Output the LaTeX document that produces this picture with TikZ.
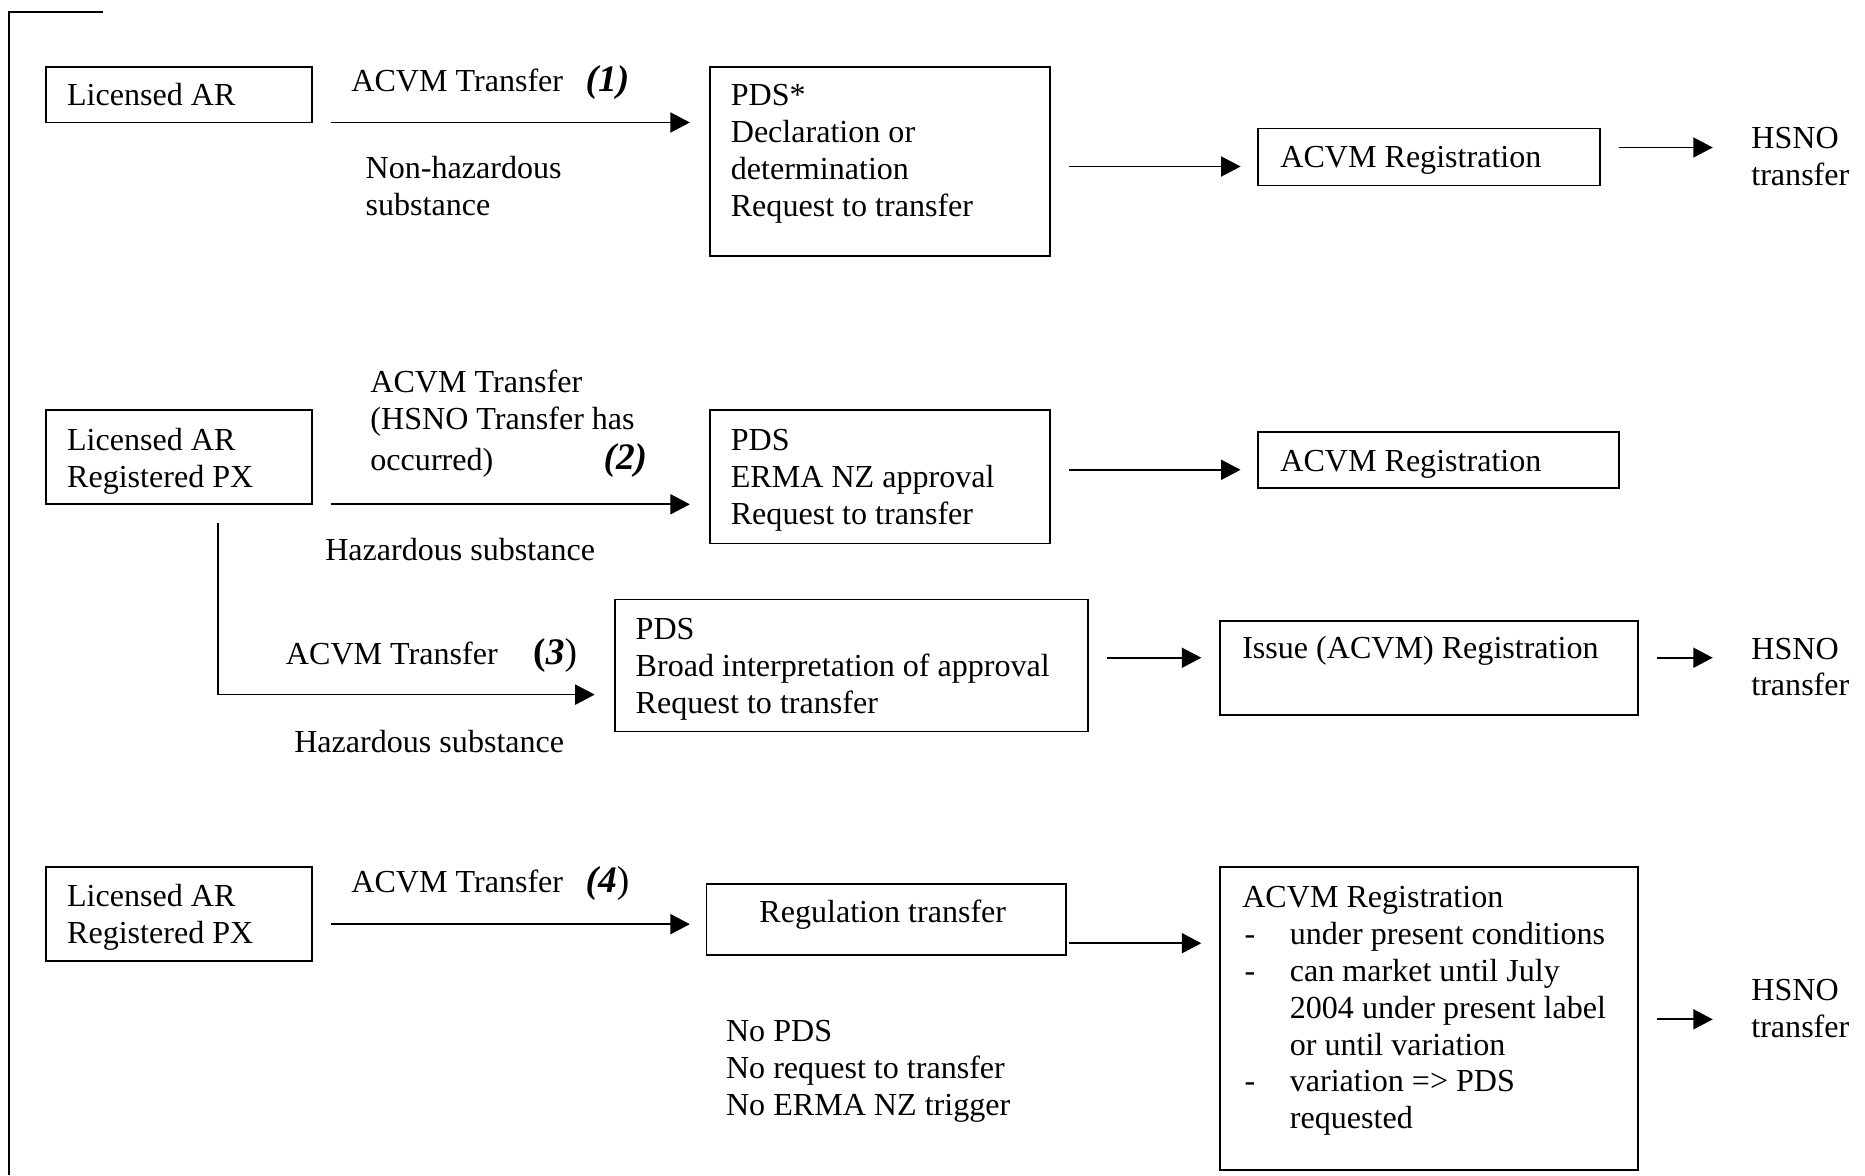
\documentclass[tikz,border=0pt]{standalone}
\usepackage{fontspec}
\setmainfont{Liberation Serif}
\usetikzlibrary{arrows.meta,fit}
\newcommand\rowdash{\makebox[17.8pt][l]{\hspace{0.9pt}-}}
\newcommand\rowind{\hspace*{17.8pt}}
\begin{document}
\begin{tikzpicture}[x=0.445pt,y=-0.445pt,
  box/.style={draw,line width=0.7pt,inner sep=0pt},
  tl/.style={font=\fontsize{12}{13.8}\selectfont,inner sep=0pt,anchor=base west},
  tm/.style={font=\fontsize{12}{13.8}\selectfont,inner sep=0pt,anchor=north west,align=left},
  num/.style={font=\fontsize{14}{16}\selectfont,inner sep=0pt,anchor=base west},
  arr/.style={line width=0.65pt,-{Triangle[length=7.3pt,width=7.5pt]}},
  ln/.style={line width=0.65pt}]
\useasboundingbox (0,0) rectangle (1568,988);

% frame
\coordinate (fa) at (87,10);
\coordinate (fb) at (7.5,10);
\coordinate (fc) at (7.5,988);
\draw[ln] (fa) -- (fb) -- (fc);

% ---------- Row 1 ----------
\node[box,fit={(39,56) (262,103)}] (a1) {};
\node[tl] (a1t) at (56,89) {Licensed AR};
\node[tl] (lab1) at (295,77) {ACVM Transfer};
\node[num] (num1) at (492,77) {\textbf{\textit{(1)}}};
\node[tm] (nonhaz) at (307,128.3) {\strut Non-hazardous\\substance};
\node[box,fit={(597,56) (883,215)}] (p1) {};
\node[tm] (p1t) at (614,66.8) {\strut PDS*\\Declaration or\\determination\\Request to transfer};
\node[box,fit={(1058,108) (1345,156)}] (r1) {};
\node[tl] (r1t) at (1076,141) {ACVM Registration};
\node[tm] (h1) at (1472,102.8) {\strut HSNO\\transfer};

\coordinate (a1o) at (278,103);
\coordinate (p1i) at (580,103);
\draw[arr] (a1o) -- (p1i);
\coordinate (p1o) at (899,140);
\coordinate (r1i) at (1043,140);
\draw[arr] (p1o) -- (r1i);
\coordinate (r1o) at (1361,124);
\coordinate (h1i) at (1440,124);
\draw[arr] (r1o) -- (h1i);

% ---------- Row 2 ----------
\node[box,fit={(39,345) (262,424)}] (a2) {};
\node[tm] (a2t) at (56,356.8) {\strut Licensed AR\\Registered PX};
\node[tm] (lab2) at (311,307.9) {\strut ACVM Transfer\\(HSNO Transfer has\\[1.5pt]occurred)};
\node[num] (num2) at (507,395) {\textbf{\textit{(2)}}};
\node[tl] (haz2) at (273,471.5) {Hazardous substance};
\node[box,fit={(597,345) (883,457)}] (p2) {};
\node[tm] (p2t) at (614,356.8) {\strut PDS\\ERMA NZ approval\\Request to transfer};
\node[box,fit={(1058,363) (1361,410)}] (r2) {};
\node[tl] (r2t) at (1076,396) {ACVM Registration};

\coordinate (a2o) at (278,424);
\coordinate (p2i) at (580,424);
\draw[arr] (a2o) -- (p2i);
\coordinate (p2o) at (899,395);
\coordinate (r2i) at (1043,395);
\draw[arr] (p2o) -- (r2i);

% ---------- Row 3 ----------
\coordinate (a2d) at (183,440);
\coordinate (p3i) at (500,584);
\draw[arr] (a2d) |- (p3i);
\node[tl] (lab3) at (240,559) {ACVM Transfer};
\node[num] (num3) at (448,559) {{\bfseries(\itshape 3})};
\node[tl] (haz3) at (247,633) {Hazardous substance};
\node[box,fit={(517,504) (915,615)}] (p3) {};
\node[tm] (p3t) at (534,515.3) {\strut PDS\\Broad interpretation of approval\\Request to transfer};
\node[box,fit={(1026,522) (1377,601)}] (r3) {};
\node[tl] (r3t) at (1044,554) {Issue (ACVM) Registration};
\node[tm] (h3) at (1472,531.9) {\strut HSNO\\transfer};

\coordinate (p3o) at (931,553);
\coordinate (r3i) at (1010,553);
\draw[arr] (p3o) -- (r3i);
\coordinate (r3o) at (1393,553);
\coordinate (h3i) at (1440,553);
\draw[arr] (r3o) -- (h3i);

% ---------- Row 4 ----------
\node[box,fit={(39,729) (262,808)}] (a4) {};
\node[tm] (a4t) at (56,740.3) {\strut Licensed AR\\Registered PX};
\node[tl] (lab4) at (295,750) {ACVM Transfer};
\node[num] (num4) at (492,750) {{\bfseries\itshape(4})};
\node[box,fit={(594,743) (896,803)}] (p4) {};
\node[tl] (p4t) at (638,776) {Regulation transfer};
\node[tm] (nopds) at (610,853.3) {\strut No PDS\\No request to transfer\\No ERMA NZ trigger};
\node[box,fit={(1026,729) (1377,984)}] (r4) {};
\node[tm] (r4t) at (1044,740.8) {\strut ACVM Registration\\
\rowdash under present conditions\\
\rowdash can market until July\\
\rowind 2004 under present label\\
\rowind or until variation\\
\rowdash variation => PDS\\
\rowind requested};
\node[tm] (h4) at (1472,819.3) {\strut HSNO\\transfer};

\coordinate (a4o) at (278,777);
\coordinate (p4i) at (580,777);
\draw[arr] (a4o) -- (p4i);
\coordinate (p4o) at (899,793);
\coordinate (r4i) at (1010,793);
\draw[arr] (p4o) -- (r4i);
\coordinate (r4o) at (1393,857);
\coordinate (h4i) at (1440,857);
\draw[arr] (r4o) -- (h4i);
\end{tikzpicture}
\end{document}
